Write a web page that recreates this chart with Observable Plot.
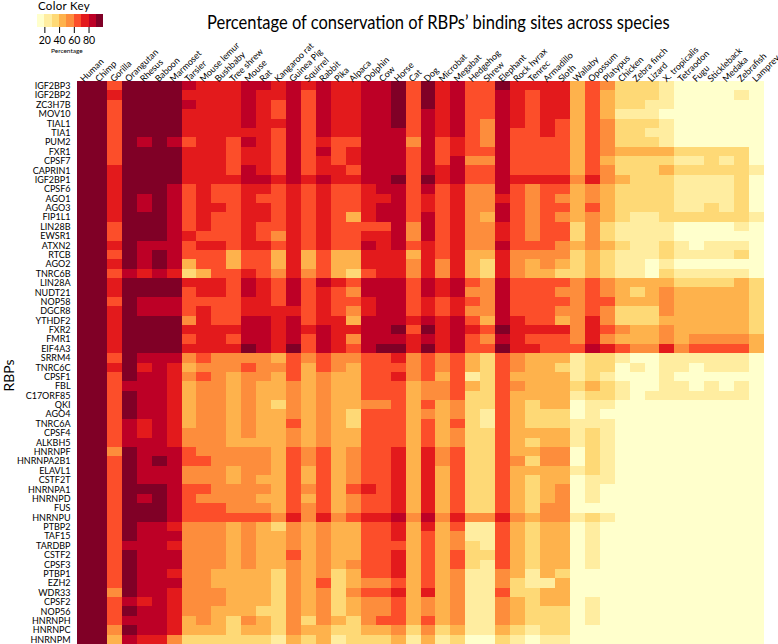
<!DOCTYPE html>
<html><head><meta charset="utf-8">
<script src="https://cdn.jsdelivr.net/npm/d3@7"></script>
<script src="https://cdn.jsdelivr.net/npm/@observablehq/plot@0.6"></script>
<style>
html,body{margin:0;padding:0;background:#fff;overflow:hidden}
#page{position:relative;width:778px;height:644px;font-family:Lato,sans-serif;color:#000}
#page>div{position:absolute}
#main{left:0;top:0}
#key{left:0;top:0}
#title{left:207px;top:9px;font-size:20px;line-height:24px;white-space:nowrap;transform-origin:0 0;transform:scaleX(.825)}
#keyTitle{left:38px;top:0;font-size:11.5px;line-height:12px;letter-spacing:.3px}
#keyUnit{left:51px;top:47px;font-size:6.5px;line-height:8px}
#rbps{left:-8px;top:367px;font-size:14px;transform:rotate(-90deg)}
</style></head><body>
<div id="page">
<div id="main"></div><div id="key"></div>
<div id="title">Percentage of conservation of RBPs’ binding sites across species</div>
<div id="keyTitle">Color Key</div><div id="keyUnit">Percentage</div><div id="rbps">RBPs</div>
</div>
<script>
const species=["Human","Chimp","Gorilla","Orangutan","Rhesus","Baboon","Marmoset","Tarsier","Mouse lemur","Bushbaby","Tree shrew","Mouse","Rat","Kangaroo rat","Guinea Pig","Squirrel","Rabbit","Pika","Alpaca","Dolphin","Cow","Horse","Cat","Dog","Microbat","Megabat","Hedgehog","Shrew","Elephant","Rock hyrax","Tenrec","Armadillo","Sloth","Wallaby","Opossum","Platypus","Chicken","Zebra finch","Lizard","X. tropicalis","Tetraodon","Fugu","Stickleback","Medaka","Zebrafish","Lamprey"];
const rbps=["IGF2BP3","IGF2BP2","ZC3H7B","MOV10","TIAL1","TIA1","PUM2","FXR1","CPSF7","CAPRIN1","IGF2BP1","CPSF6","AGO1","AGO3","FIP1L1","LIN28B","EWSR1","ATXN2","RTCB","AGO2","TNRC6B","LIN28A","NUDT21","NOP58","DGCR8","YTHDF2","FXR2","FMR1","EIF4A3","SRRM4","TNRC6C","CPSF1","FBL","C17ORF85","QKI","AGO4","TNRC6A","CPSF4","ALKBH5","HNRNPF","HNRNPA2B1","ELAVL1","CSTF2T","HNRNPA1","HNRNPD","FUS","HNRNPU","PTBP2","TAF15","TARDBP","CSTF2","CPSF3","PTBP1","EZH2","WDR33","CPSF2","NOP56","HNRNPH","HNRNPC","HNRNPM"];
const keyTicks=[20,40,60,80];
const binEdges=[10,20,30,40,50,60,70,80,90,100];
const binColors=["#FFFFCC","#FFEDA0","#FED976","#FEB24C","#FD8D3C","#FC4E2A","#E31A1C","#BD0026","#800026"];
const IGF2BP3=[95,95,65,95,95,95,95,85,75,75,75,85,85,75,85,75,85,75,75,85,85,95,65,95,75,85,65,65,95,75,75,75,75,45,65,55,35,35,35,25,15,15,15,15,15,15];
const IGF2BP2=[95,95,75,95,95,95,95,75,75,75,75,85,75,75,85,65,85,75,75,85,85,95,65,95,75,85,65,65,85,75,65,75,75,45,65,45,35,35,35,25,15,15,15,15,25,15];
const ZC3H7B=[95,95,65,95,95,95,95,85,75,75,75,85,75,65,85,65,85,75,75,85,85,95,65,95,75,85,65,65,85,75,65,75,75,45,65,45,35,35,25,25,15,15,15,15,15,15];
const MOV10=[95,95,65,95,95,95,95,75,75,75,75,85,75,65,85,65,85,75,75,85,85,95,65,85,75,85,65,65,85,75,65,75,75,45,65,45,25,25,25,15,15,15,15,15,15,15];
const TIAL1=[95,95,65,95,95,95,95,75,75,75,75,85,75,75,85,65,85,75,75,85,85,95,65,85,75,85,65,55,85,75,65,75,65,45,65,55,35,35,35,25,15,15,15,15,15,15];
const TIA1=[95,95,65,95,95,95,95,75,75,75,75,75,75,65,85,65,85,75,75,85,85,85,65,85,75,85,65,55,85,65,65,75,65,45,65,55,35,35,25,25,15,15,15,15,15,15];
const PUM2=[95,95,65,95,85,95,85,65,75,75,65,85,75,65,85,65,75,65,65,85,85,85,55,85,65,75,65,55,85,65,65,65,65,45,65,55,35,35,35,25,15,15,15,15,15,15];
const FXR1=[95,95,65,95,95,95,95,75,75,75,65,75,75,65,85,65,85,65,75,85,85,85,65,85,65,75,65,65,85,65,65,65,65,45,65,55,45,45,45,45,35,35,35,35,35,15];
const CPSF7=[95,95,65,95,95,95,95,75,75,75,65,75,75,65,85,65,75,65,75,85,85,85,65,85,65,85,55,55,85,65,65,65,65,45,65,45,35,35,35,35,25,25,35,25,35,15];
const CAPRIN1=[95,95,75,95,95,95,95,75,75,75,65,85,75,65,85,65,75,75,65,85,85,85,65,85,75,85,65,65,85,65,65,65,65,45,65,55,35,35,35,45,35,35,35,35,35,25];
const IGF2BP1=[95,95,75,95,95,95,95,75,75,75,75,85,85,75,85,75,85,75,75,85,85,95,65,95,75,85,65,65,85,75,75,75,75,55,75,55,45,35,35,35,25,25,25,25,35,15];
const CPSF6=[95,95,75,95,95,95,85,65,75,65,65,75,75,65,75,65,75,65,65,75,85,85,65,85,65,75,55,55,85,65,55,65,65,45,55,45,35,35,35,35,25,25,25,25,35,15];
const AGO1=[95,95,75,95,85,95,85,65,75,65,65,75,65,65,75,65,75,65,65,75,75,85,65,75,65,75,55,55,75,65,55,65,55,45,55,45,35,35,35,35,25,25,25,25,35,15];
const AGO3=[95,95,75,95,85,95,85,65,75,75,65,75,75,65,75,65,75,65,65,75,85,85,65,75,65,75,55,55,85,65,55,65,65,45,65,45,35,35,35,35,25,25,35,25,35,15];
const FIP1L1=[95,95,75,95,95,95,85,65,75,65,65,75,75,65,75,65,75,65,45,75,85,85,65,85,65,75,55,45,85,65,55,65,55,45,55,45,35,25,25,35,35,35,35,35,35,25];
const LIN28B=[95,95,65,95,95,95,85,65,75,65,65,75,65,65,75,65,75,65,65,65,65,85,55,85,65,75,55,55,75,65,55,65,65,35,55,35,25,25,25,25,15,15,15,15,25,15];
const EWSR1=[95,95,65,95,95,95,85,75,65,65,65,75,65,55,75,65,75,65,65,75,75,85,55,85,65,75,55,55,75,65,55,65,65,35,55,35,25,25,25,25,15,15,15,15,15,15];
const ATXN2=[95,95,75,95,85,85,85,65,75,75,65,75,75,65,75,65,75,65,65,85,75,85,65,75,65,75,55,55,85,65,65,65,55,45,55,45,35,25,25,35,25,15,25,25,25,15];
const RTCB=[95,95,65,95,85,95,85,65,65,65,45,65,65,45,75,45,65,45,45,75,75,75,45,75,65,75,45,45,75,55,55,55,55,35,45,35,25,25,25,35,25,25,25,25,35,15];
const AGO2=[95,95,75,95,85,95,85,45,65,65,45,65,65,45,75,45,65,45,45,75,75,75,55,75,55,75,45,35,75,55,45,55,45,35,45,35,25,25,15,25,15,15,15,15,15,15];
const TNRC6B=[95,95,65,85,75,85,75,35,45,65,65,75,65,55,75,55,65,45,35,65,75,75,55,75,55,75,45,35,75,55,45,45,35,35,45,35,25,25,15,35,25,25,25,25,25,15];
const LIN28A=[95,95,75,95,95,95,95,75,75,75,65,85,75,65,85,65,85,75,65,85,85,85,65,85,75,85,65,55,85,65,65,65,65,55,65,55,45,45,45,45,35,35,35,35,45,35];
const NUDT21=[95,95,75,95,95,95,95,65,75,75,65,85,75,65,85,65,75,65,55,85,85,85,65,85,75,85,55,55,85,65,65,65,55,55,65,55,45,35,45,55,45,45,45,45,45,35];
const NOP58=[95,95,65,95,85,85,85,65,65,65,65,75,75,65,85,65,75,65,65,75,85,85,65,75,65,75,65,55,85,65,65,65,65,55,65,65,45,45,45,55,45,45,45,45,45,35];
const DGCR8=[95,95,75,95,85,85,85,65,75,65,65,75,75,75,75,65,75,65,55,75,85,85,65,75,65,75,55,55,85,65,65,65,55,55,65,55,35,35,35,55,45,45,45,45,45,35];
const YTHDF2=[95,95,75,95,95,95,95,55,75,65,65,85,85,75,85,65,75,75,45,85,85,85,75,85,75,85,65,45,85,75,65,65,45,55,75,55,35,35,35,45,45,45,45,45,45,35];
const FXR2=[95,95,75,95,95,95,95,75,75,75,75,85,85,75,85,75,85,75,75,85,85,95,65,95,75,85,75,65,95,75,75,75,75,55,75,65,55,45,45,55,45,45,45,45,45,35];
const FMR1=[95,95,75,95,95,95,95,65,75,75,65,85,85,75,85,65,85,75,55,85,85,85,75,85,75,85,65,55,85,75,65,65,65,55,75,55,45,45,45,55,45,55,55,55,55,45];
const EIF4A3=[95,95,75,95,95,95,95,75,75,75,75,95,85,75,95,65,85,75,65,85,95,95,75,95,75,85,65,65,95,75,75,65,65,65,85,75,65,55,55,75,55,65,65,65,65,45];
const SRRM4=[95,95,65,95,85,85,85,55,65,55,55,55,55,45,65,55,65,55,55,65,65,75,55,65,55,65,45,35,65,55,45,45,45,25,35,35,25,15,15,25,25,25,25,25,25,15];
const TNRC6C=[95,95,75,95,75,85,75,45,55,55,55,65,55,55,65,45,65,55,45,65,65,65,55,65,55,65,45,35,65,55,45,45,35,25,35,35,15,25,15,25,25,15,25,25,25,15];
const CPSF1=[95,95,65,95,85,85,75,55,65,55,45,55,55,45,65,45,55,45,45,65,65,75,55,65,45,65,25,35,65,45,45,45,45,25,35,25,15,15,15,25,15,15,15,15,15,15];
const FBL=[95,95,65,85,85,85,75,45,55,55,45,55,45,45,55,45,55,45,45,65,65,65,45,55,55,65,45,35,65,55,45,45,45,35,45,35,25,15,15,25,25,15,25,15,25,15];
const C17ORF85=[95,95,65,95,85,85,75,45,55,55,45,55,45,45,55,45,55,45,45,65,65,65,45,55,55,65,35,35,65,45,45,45,45,25,35,35,25,15,25,25,25,25,25,25,25,15];
const QKI=[95,95,65,95,85,85,75,45,55,55,45,55,45,35,55,45,55,45,45,55,55,65,45,65,45,55,35,35,65,45,35,45,45,15,25,25,15,15,15,15,15,15,15,15,15,15];
const AGO4=[95,95,65,95,85,85,75,45,55,55,45,55,45,45,55,45,55,45,35,65,65,65,45,55,45,55,35,25,65,45,35,35,35,15,25,15,15,15,15,15,15,15,15,15,15,15];
const TNRC6A=[95,95,65,85,75,85,75,45,55,55,45,55,45,45,65,45,55,45,35,65,65,65,45,65,45,65,35,25,65,45,35,35,35,25,25,25,15,15,15,15,15,15,15,15,15,15];
const CPSF4=[95,95,65,85,75,85,75,55,55,55,45,55,45,45,55,45,55,45,45,65,65,65,45,65,45,55,35,35,65,45,45,45,45,25,35,25,15,15,15,15,15,15,15,15,15,15];
const ALKBH5=[95,95,65,85,85,85,75,55,55,55,45,45,45,45,55,45,55,45,45,65,65,65,45,65,45,55,35,35,65,45,35,45,45,25,35,25,15,15,15,15,15,15,15,15,15,15];
const HNRNPF=[95,95,55,95,85,85,85,65,55,55,55,55,55,45,65,55,65,45,55,65,65,75,45,75,55,65,35,35,65,45,45,55,55,15,35,25,15,15,15,15,15,15,15,15,15,15];
const HNRNPA2B1=[95,95,65,95,85,95,85,65,65,55,55,55,55,45,65,55,65,45,55,65,65,75,45,75,55,65,35,35,65,55,35,55,55,15,35,25,15,15,15,15,15,15,15,15,15,15];
const ELAVL1=[95,95,65,95,85,85,85,55,55,55,45,55,55,45,65,45,65,45,55,65,65,75,45,75,45,65,35,35,65,45,45,45,45,25,35,25,15,15,15,15,15,15,15,15,15,15];
const CSTF2T=[95,95,65,95,85,85,85,55,55,55,45,55,45,45,65,45,65,45,55,65,65,75,45,75,45,65,35,35,65,45,35,45,45,15,25,25,15,15,15,15,15,15,15,15,15,15];
const HNRNPA1=[95,95,65,95,95,95,85,65,65,55,55,55,55,45,65,55,65,45,65,75,65,75,45,75,45,65,35,35,65,45,35,45,55,15,25,15,15,15,15,15,15,15,15,15,15,15];
const HNRNPD=[95,95,65,95,85,95,85,65,55,55,55,55,45,45,65,45,65,45,55,65,65,75,45,75,45,65,35,35,65,45,35,45,55,15,25,15,15,15,15,15,15,15,15,15,15,15];
const FUS=[95,95,65,95,95,95,85,65,65,65,55,55,55,45,65,55,65,45,55,65,65,75,45,75,45,65,35,35,65,45,35,55,55,15,15,15,15,15,15,15,15,15,15,15,15,15];
const HNRNPU=[95,95,65,95,95,95,85,65,65,65,65,65,65,55,75,55,75,55,65,75,75,85,55,85,55,75,55,55,75,55,45,55,55,25,35,25,15,15,15,15,15,15,15,15,15,15];
const PTBP2=[95,95,65,95,85,85,75,55,55,55,45,55,45,35,55,45,55,45,45,65,65,75,45,75,45,65,25,25,65,45,35,45,45,15,25,15,15,15,15,15,15,15,15,15,15,15];
const TAF15=[95,95,65,95,85,85,85,55,55,55,45,55,45,45,55,45,55,45,45,65,65,75,45,65,45,55,25,25,65,45,35,45,45,15,25,15,15,15,15,15,15,15,15,15,15,15];
const TARDBP=[95,95,65,85,85,85,75,55,55,55,45,55,45,45,55,45,55,45,45,65,65,65,45,65,45,55,35,25,65,45,35,45,45,15,25,15,15,15,15,15,15,15,15,15,15,15];
const CSTF2=[95,95,65,95,85,85,85,55,55,55,45,55,45,45,65,45,55,45,45,65,65,75,45,65,45,65,35,35,65,45,35,45,45,15,25,15,15,15,15,15,15,15,15,15,15,15];
const CPSF3=[95,95,65,95,85,85,85,55,55,55,45,55,45,45,55,45,55,45,55,65,65,75,45,65,45,65,35,25,65,45,35,45,45,15,25,15,15,15,15,15,15,15,15,15,15,15];
const PTBP1=[95,95,65,95,85,85,75,55,55,45,45,45,45,35,55,45,55,35,45,65,65,75,45,65,45,55,25,25,55,45,25,45,35,15,15,15,15,15,15,15,15,15,15,15,15,15];
const EZH2=[95,95,65,95,85,85,85,55,55,45,45,45,45,35,55,45,65,35,45,55,55,65,45,65,45,55,25,25,55,35,25,25,45,15,15,15,15,15,15,15,15,15,15,15,15,15];
const WDR33=[95,95,55,95,85,85,75,55,55,55,45,45,45,35,55,45,55,35,55,65,65,75,45,75,45,55,25,25,65,35,35,45,45,15,15,15,15,15,15,15,15,15,15,15,15,15];
const CPSF2=[95,95,65,85,75,85,75,55,55,55,45,45,45,35,55,45,55,35,45,55,55,65,45,55,45,55,25,25,55,45,35,45,45,15,25,15,15,15,15,15,15,15,15,15,15,15];
const NOP56=[95,95,65,95,85,85,75,55,55,45,45,45,35,35,55,45,55,35,45,55,55,65,45,55,45,55,25,25,55,45,35,35,35,15,25,15,15,15,15,15,15,15,15,15,15,15];
const HNRNPH=[95,95,65,85,85,85,75,45,55,45,35,55,45,35,55,35,55,45,35,55,65,65,45,65,45,55,25,25,55,45,35,35,35,15,25,15,15,15,15,15,15,15,15,15,15,15];
const HNRNPC=[95,95,55,95,85,85,75,45,45,45,35,45,45,35,55,45,45,35,35,45,45,55,35,55,35,45,25,25,45,35,25,35,35,15,15,15,15,15,15,15,15,15,15,15,15,15];
const HNRNPM=[95,95,45,85,75,75,55,35,35,35,35,35,35,25,45,35,45,25,35,35,35,45,25,45,25,35,15,15,35,25,15,25,25,15,15,15,15,15,15,15,15,15,15,15,15,15];
const matrix=[IGF2BP3,IGF2BP2,ZC3H7B,MOV10,TIAL1,TIA1,PUM2,FXR1,CPSF7,CAPRIN1,IGF2BP1,CPSF6,AGO1,AGO3,FIP1L1,LIN28B,EWSR1,ATXN2,RTCB,AGO2,TNRC6B,LIN28A,NUDT21,NOP58,DGCR8,YTHDF2,FXR2,FMR1,EIF4A3,SRRM4,TNRC6C,CPSF1,FBL,C17ORF85,QKI,AGO4,TNRC6A,CPSF4,ALKBH5,HNRNPF,HNRNPA2B1,ELAVL1,CSTF2T,HNRNPA1,HNRNPD,FUS,HNRNPU,PTBP2,TAF15,TARDBP,CSTF2,CPSF3,PTBP1,EZH2,WDR33,CPSF2,NOP56,HNRNPH,HNRNPC,HNRNPM];

const cells=matrix.flatMap((vals,r)=>vals.map((v,c)=>({rbp:rbps[r],sp:species[c],v})));
const main=Plot.plot({
  width:778,height:644,marginTop:81,marginLeft:77,marginRight:14,marginBottom:0,
  style:{fontFamily:"Lato,sans-serif",fontSize:"9px",color:"#000",background:"transparent"},
  x:{domain:species,padding:0,round:false,axis:null},
  y:{domain:rbps,padding:0,round:false,axis:null},
  color:{type:"threshold",domain:binEdges.slice(1,-1),range:binColors},
  marks:[
    Plot.cell(cells,{x:"sp",y:"rbp",fill:"v",shapeRendering:"crispEdges"}),
    Plot.axisX({anchor:"top",tickSize:0,tickPadding:1,tickRotate:-45,label:null,fontSize:9,dx:-3}),
    Plot.axisY({anchor:"left",tickSize:0,tickPadding:7,label:null,fontSize:9})
  ]
});
document.getElementById("main").append(main);
const bins=binColors.map((c,i)=>({a:binEdges[i],b:binEdges[i+1],c}));
const key=Plot.plot({
  width:130,height:46,marginLeft:37,marginRight:26,marginTop:14,marginBottom:19,
  style:{fontFamily:"Lato,sans-serif",color:"#000",background:"transparent",overflow:"visible"},
  x:{domain:[10,101]},
  y:{axis:null,domain:[0,1]},
  marks:[
    Plot.rectY(bins,{x1:"a",x2:"b",y1:0,y2:1,fill:"c",shapeRendering:"crispEdges"}),
    Plot.axisX({ticks:keyTicks,tickSize:6,tickPadding:3,label:null,fontSize:10.5,stroke:"#000"})
  ]
});
document.getElementById("key").append(key);
</script>
</body></html>
